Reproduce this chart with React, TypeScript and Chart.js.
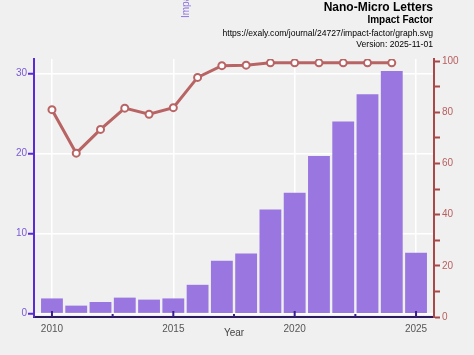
import React, { useEffect, useRef } from "react";
import { Chart, registerables } from "chart.js";

Chart.register(...registerables);

const years = [2010, 2011, 2012, 2013, 2014, 2015, 2016, 2017, 2018, 2019, 2020, 2021, 2022, 2023, 2024, 2025];
const impactFactor = [1.9, 1.0, 1.45, 2.0, 1.75, 1.9, 3.6, 6.6, 7.5, 13.0, 15.1, 19.7, 24.0, 27.4, 30.3, 7.6];
const lineYears = [2010, 2011, 2012, 2013, 2014, 2015, 2016, 2017, 2018, 2019, 2020, 2021, 2022, 2023, 2024];
const percentile = [81, 64, 73.3, 81.6, 79.2, 81.8, 93.6, 98.2, 98.4, 99.3, 99.3, 99.3, 99.3, 99.3, 99.3];
const xTicks = [2010, 2012.5, 2015, 2017.5, 2020, 2022.5, 2025];
const xLabels = [2010, 2015, 2020, 2025];
const leftTicks = [0, 10, 20, 30];
const rightTicks = [0, 10, 20, 30, 40, 50, 60, 70, 80, 90, 100];
const titleLines = ["Nano-Micro Letters", "Impact Factor", "https://exaly.com/journal/24727/impact-factor/graph.svg", "Version: 2025-11-01"];

const FONT = "'Liberation Sans', Arial, sans-serif";
const PURPLE_AXIS = "#5a2ad6";
const PURPLE_TEXT = "#7a5ad8";
const RED_AXIS = "#a84848";
const RED_TEXT = "#b85e5e";

export default function App() {
  const ref = useRef<HTMLCanvasElement>(null);
  useEffect(() => {
    const canvas = ref.current!;
    const textPlugin = {
      id: "texts",
      beforeDraw(chart: any) {
        const ctx = chart.ctx;
        ctx.save();
        ctx.fillStyle = "#f0f0f0";
        ctx.fillRect(0, 0, chart.width, chart.height);
        ctx.restore();
      },
      afterDraw(chart: any) {
        const ctx = chart.ctx;
        const right = chart.chartArea.right - 1;
        ctx.save();
        ctx.fillStyle = "#000";
        ctx.textAlign = "right";
        ctx.textBaseline = "middle";
        ctx.font = `bold 12px ${FONT}`;
        ctx.fillText(titleLines[0], right, 8);
        ctx.font = `bold 10px ${FONT}`;
        ctx.fillText(titleLines[1], right, 20);
        ctx.font = `8.6px ${FONT}`;
        ctx.fillText(titleLines[2], right, 33.5);
        ctx.fillText(titleLines[3], right, 44.5);
        // rotated left axis title (partially off canvas)
        ctx.translate(186, 18);
        ctx.rotate(-Math.PI / 2);
        ctx.textAlign = "left";
        ctx.fillStyle = "#8a6ee0";
        ctx.font = `10px ${FONT}`;
        ctx.fillText("Impact Factor", 0, 0);
        ctx.restore();
        // inward x ticks
        const xs = chart.scales.x;
        const b = chart.chartArea.bottom;
        ctx.save();
        ctx.strokeStyle = "#3a1c8a";
        ctx.lineWidth = 2;
        xTicks.forEach((v) => {
          const px = xs.getPixelForValue(v);
          const major = xLabels.includes(v);
          ctx.beginPath();
          ctx.moveTo(px, b);
          ctx.lineTo(px, b - (major ? 6 : 3));
          ctx.stroke();
        });
        ctx.restore();
      },
    };

    const chart = new Chart(canvas, {
      type: "bar",
      data: {
        datasets: [
          {
            type: "line",
            label: "Percentile",
            data: lineYears.map((y, i) => ({ x: y, y: percentile[i] })),
            yAxisID: "y2",
            borderColor: "#b86464",
            borderWidth: 3,
            pointRadius: 3.5,
            pointBorderWidth: 2,
            pointBackgroundColor: "#ffffff",
            pointBorderColor: "#b86464",
            order: 0,
          } as any,
          {
            type: "bar",
            label: "Impact Factor",
            data: years.map((y, i) => ({ x: y, y: impactFactor[i] })),
            yAxisID: "y",
            backgroundColor: "#9a77e0",
            borderWidth: 0,
            barPercentage: 0.9,
            categoryPercentage: 1,
            order: 1,
          },
        ],
      },
      options: {
        animation: false,
        responsive: false,
        maintainAspectRatio: false,
        layout: { padding: { top: 59, left: 0, right: 0, bottom: 0 } },
        plugins: { legend: { display: false }, tooltip: { enabled: false }, title: { display: false } },
        scales: {
          x: {
            type: "linear",
            offset: false,
            min: 2009.26,
            max: 2025.74,
            afterBuildTicks: (s: any) => {
              s.ticks = xTicks.map((v) => ({ value: v }));
            },
            afterFit: (s: any) => {
              s.height = 38;
            },
            ticks: {
              autoSkip: false,
              maxRotation: 0,
              padding: 6,
              color: "#555",
              font: { family: FONT, size: 10 },
              callback: (v: any) => (xLabels.includes(v) ? String(v) : ""),
            },
            grid: {
              offset: false,
              drawTicks: false,
              color: (c: any) => (c.tick && xLabels.includes(c.tick.value) ? "#ffffff" : "rgba(0,0,0,0)"),
              lineWidth: 1.5,
            },
            border: { color: "#2c1a5c", width: 2 },
            title: {
              display: true,
              text: "Year",
              color: "#444",
              font: { family: FONT, size: 10 },
              padding: { top: 0, bottom: 16 },
            },
          },
          y: {
            type: "linear",
            position: "left",
            min: -0.42,
            max: 31.8,
            afterBuildTicks: (s: any) => {
              s.ticks = leftTicks.map((v) => ({ value: v }));
            },
            afterFit: (s: any) => {
              s.width = 34;
            },
            ticks: {
              autoSkip: false,
              padding: 1,
              color: PURPLE_TEXT,
              font: { family: FONT, size: 10 },
            },
            grid: {
              color: "#ffffff",
              lineWidth: 1.5,
              tickColor: PURPLE_AXIS,
              tickLength: 6,
              tickWidth: 2,
            },
            border: { color: PURPLE_AXIS, width: 2 },
          },
          y2: {
            type: "linear",
            position: "right",
            min: 0,
            max: 100.8,
            afterBuildTicks: (s: any) => {
              s.ticks = rightTicks.map((v) => ({ value: v }));
            },
            afterFit: (s: any) => {
              s.width = 40;
            },
            ticks: {
              autoSkip: false,
              padding: 2,
              color: RED_TEXT,
              font: { family: FONT, size: 10 },
              callback: (v: any) => (v % 20 === 0 ? String(v) : ""),
            },
            grid: {
              drawOnChartArea: false,
              tickColor: RED_AXIS,
              tickLength: 6,
              tickWidth: 2,
            },
            border: { color: RED_AXIS, width: 2 },
          },
        },
      },
      plugins: [textPlugin],
    } as any);
    return () => chart.destroy();
  }, []);
  return (
    <div style={{ position: "fixed", left: 0, top: 0, width: 474, height: 355, background: "#f0f0f0" }}>
      <canvas ref={ref} width={474} height={355} style={{ display: "block", width: 474, height: 355 }} />
    </div>
  );
}
